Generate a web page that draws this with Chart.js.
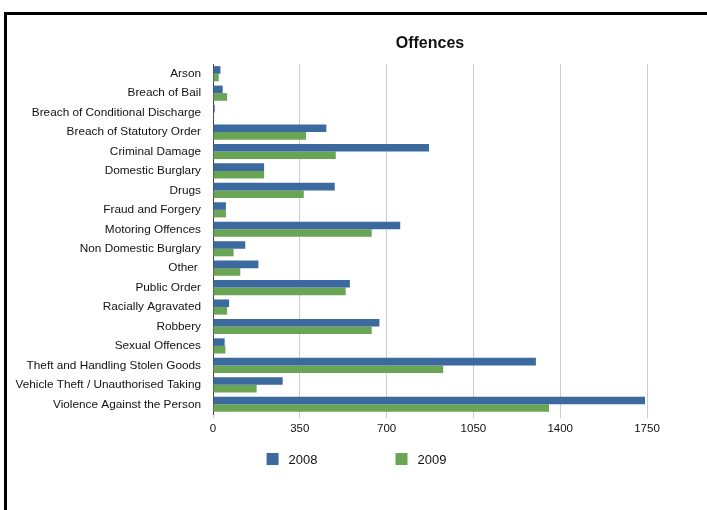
<!DOCTYPE html>
<html>
<head>
<meta charset="utf-8">
<script src="https://cdn.jsdelivr.net/npm/chart.js@4/dist/chart.umd.min.js"></script>
<style>
  html, body { margin: 0; padding: 0; background: #fff; }
  #wrap { position: relative; width: 707px; height: 510px; overflow: hidden; }
  #frame {
    position: absolute; left: 4px; top: 12px; width: 720px; height: 520px;
    border-top: 3px solid #000; border-left: 3px solid #000;
  }
  #offences { position: absolute; left: 0; top: 0; }
</style>
</head>
<body>
<div id="wrap">
  <div id="frame"></div>
  <canvas id="offences" width="707" height="510"></canvas>
</div>
<script>
const categories = [
  'Arson', 'Breach of Bail', 'Breach of Conditional Discharge', 'Breach of Statutory Order',
  'Criminal Damage', 'Domestic Burglary', 'Drugs', 'Fraud and Forgery', 'Motoring Offences',
  'Non Domestic Burglary', 'Other ', 'Public Order', 'Racially Agravated', 'Robbery',
  'Sexual Offences', 'Theft and Handling Stolen Goods', 'Vehicle Theft / Unauthorised Taking',
  'Violence Against the Person'
];
const offences2008 = [30, 39, 7, 457, 871, 206, 491, 52, 755, 130, 183, 552, 65, 671, 47, 1302, 281, 1742];
const offences2009 = [23, 57, 3, 375, 495, 206, 366, 52, 640, 83, 110, 535, 57, 640, 50, 928, 176, 1355];
const xTicks = [0, 350, 700, 1050, 1400, 1750];

const FONT = "'Liberation Sans', Arial, sans-serif";

// title centred over the plot area, legend squares spread out under the axis
const titleAndLegend = {
  id: 'titleAndLegend',
  afterDraw(chart) {
    const { ctx, chartArea } = chart;
    ctx.save();
    ctx.fillStyle = '#111';
    ctx.font = 'bold 16px ' + FONT;
    ctx.textAlign = 'center';
    ctx.textBaseline = 'middle';
    ctx.fillText('Offences', (chartArea.left + chartArea.right) / 2, 44);

    ctx.font = '13px ' + FONT;
    ctx.textAlign = 'left';
    const box = 12, gap = 10, spacing = 78, y = 459;
    const sets = chart.data.datasets;
    const widths = sets.map(d => box + gap + ctx.measureText(d.label).width);
    const total = widths.reduce((a, b) => a + b, 0) + spacing * (sets.length - 1);
    let x = chart.width / 2 - total / 2 + 3;
    sets.forEach((d, i) => {
      ctx.fillStyle = d.backgroundColor;
      ctx.fillRect(x, y - box / 2, box, box);
      ctx.fillStyle = '#111';
      ctx.fillText(d.label, x + box + gap, y + 1);
      x += widths[i] + spacing;
    });
    ctx.restore();
  }
};

new Chart(document.getElementById('offences'), {
  type: 'bar',
  data: {
    labels: categories,
    datasets: [
      { label: '2008', data: offences2008, backgroundColor: '#3d6a9e' },
      { label: '2009', data: offences2009, backgroundColor: '#6aa455' }
    ]
  },
  options: {
    indexAxis: 'y',
    responsive: false,
    animation: false,
    barPercentage: 1,
    categoryPercentage: 0.78,
    layout: { padding: { left: 0, right: 60, top: 64, bottom: 66 } },
    plugins: {
      legend: { display: false },
      title: { display: false },
      tooltip: { enabled: false }
    },
    scales: {
      x: {
        min: 0,
        max: 1750,
        afterFit: s => { s.height = 30; },
        afterBuildTicks: s => { s.ticks = xTicks.map(v => ({ value: v })); },
        border: { display: false },
        grid: { color: '#cccccc', drawTicks: true, tickLength: 4 },
        ticks: {
          color: '#111', padding: 4, font: { family: FONT, size: 11.5 },
          callback: v => String(v)
        }
      },
      y: {
        afterFit: s => { s.width = 213; },
        border: { display: true, color: '#444', width: 1 },
        grid: { drawOnChartArea: false, drawTicks: false },
        ticks: { color: '#111', padding: 12, autoSkip: false, font: { family: FONT, size: 11.8 } }
      }
    }
  },
  plugins: [titleAndLegend]
});
</script>
</body>
</html>
